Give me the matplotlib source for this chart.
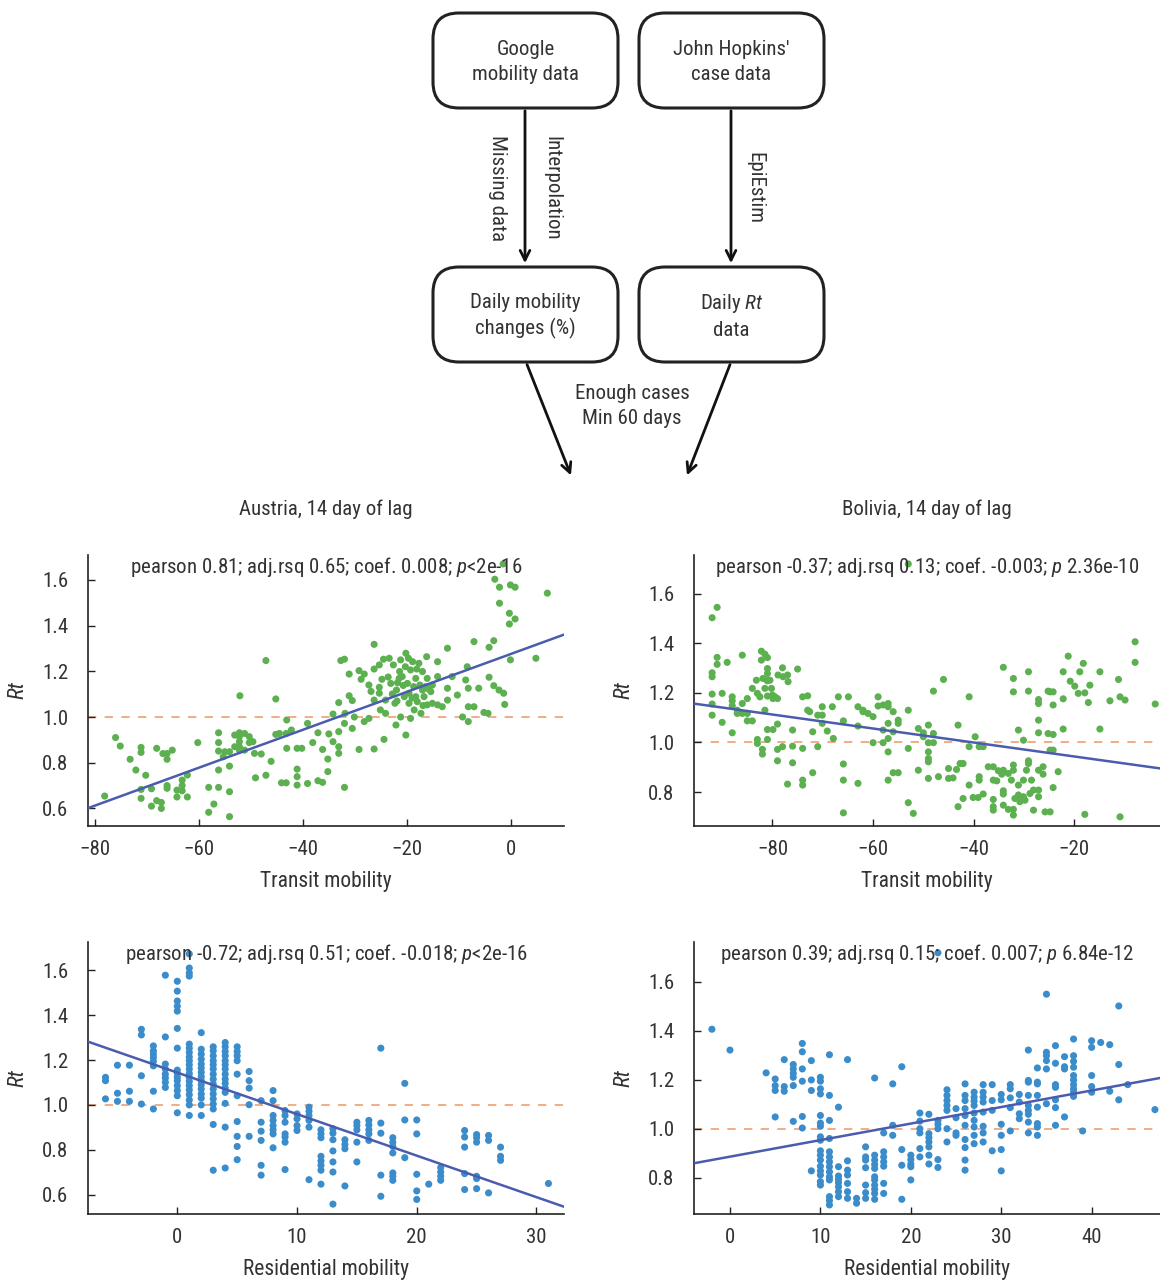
import matplotlib
matplotlib.use('Agg')
import matplotlib.pyplot as plt
from matplotlib import font_manager
from matplotlib.patches import FancyBboxPatch

# pick a narrow sans if there is one
names = {f.name for f in font_manager.fontManager.ttflist}
font = 'DejaVu Sans'
for cand in ['Liberation Sans Narrow', 'Roboto Condensed', 'Roboto', 'Liberation Sans']:
    if cand in names:
        font = cand
        break
plt.rcParams['font.family'] = [font, 'DejaVu Sans']
plt.rcParams['mathtext.fontset'] = 'custom'
plt.rcParams['mathtext.it'] = font + ':italic'
plt.rcParams['mathtext.rm'] = font

# ---- data ----
# Austria, transit mobility vs Rt
at_x = [-78.1, -76.0, -75.1, -73.2, -72.1, -71.1, -71.1, -71.1, -71.1, -70.2, -69.1, -69.1, -68.1, -68.1,
        -67.2, -67.2, -66.9, -66.1, -66.1, -66.1, -66.1, -65.1, -64.2, -64.2, -63.2, -63.2, -63.2, -62.2,
        -62.2, -60.2, -58.1, -58.1, -57.1, -56.2, -56.2, -56.2, -56.2, -56.2, -55.3, -54.1, -54.1, -54.1,
        -55.0, -54.1, -53.1, -53.1, -52.2, -52.2, -52.2, -52.2, -52.2, -52.1, -51.2, -51.2, -50.3, -50.3,
        -49.6, -49.3,
        -49.1, -47.1, -47.1, -48.0, -46.1, -45.2, -45.2, -44.5, -44.1, -43.2, -43.2, -43.1, -43.1, -42.2,
        -41.1, -41.1, -41.1, -41.1, -40.2, -39.1, -39.1, -38.1, -37.1, -37.1, -36.2, -36.2, -35.0, -35.2,
        -35.2, -34.2, -34.2, -33.1, -33.1, -33.1, -33.1, -32.7, -32.0, -32.0, -32.0, -31.9, -31.1, -31.1,
        -30.5, -30.5, -30.1, -29.2, -29.2, -28.2, -28.2, -27.3, -27.3, -26.3, -26.3, -26.3, -26.3, -25.3,
        -25.3, -25.3, -25.1, -24.5, -24.4, -24.1, -24.1, -23.4, -23.1, -22.6, -22.3, -22.1, -22.0, -21.8,
        -21.5, -21.4, -21.2, -21.2, -20.9, -20.5, -20.3, -20.2, -20.2, -19.9, -19.7, -19.6, -19.6, -19.3,
        -19.3, -18.9, -18.7, -18.6, -18.3, -18.3, -18.0, -17.7, -17.5, -17.3, -17.0, -17.0, -16.7, -16.4,
        -16.2, -16.1, -16.1, -15.4, -15.1, -15.1, -14.1, -14.1, -14.1, -13.2, -12.2, -12.2, -12.2, -11.3,
        -10.3, -9.3, -8.7, -8.4, -8.2, -8.2, -8.2, -7.1, -7.1, -6.2, -5.2, -4.4, -4.2, -4.2, -3.3, -3.3,
        -3.1, -2.3, -2.2, -2.2, -1.4, -1.2, -0.3, -0.3, -0.1, -0.1, 0.8, 0.8, 4.8, 7.0, -1.5,
        -23.6, -22.8, -21.9, -20.7, -19.0, -18.1, -16.9, -15.8, -24.8, -26.9, -28.8]
at_y = [0.654, 0.91, 0.873, 0.815, 0.768, 0.867, 0.845, 0.683, 0.644, 0.745, 0.686, 0.61, 0.863, 0.634,
        0.626, 0.6, 0.84, 0.84, 0.815, 0.70, 0.688, 0.855, 0.68, 0.65, 0.724, 0.70, 0.677, 0.746,
        0.65, 0.888, 0.692, 0.583, 0.619, 0.931, 0.888, 0.851, 0.768, 0.692, 0.826, 0.564, 0.785, 0.673,
        0.848, 0.848, 0.921, 0.87, 0.931, 0.914, 0.892, 0.87, 0.855, 1.093, 0.928, 0.855, 0.914, 0.888,
        0.892, 0.841,
        0.734, 1.247, 0.745, 0.838, 0.806, 1.079, 0.924, 0.928, 0.712, 0.712, 0.928, 0.987, 0.863, 0.943,
        0.863, 0.772, 0.739, 0.702, 0.863, 0.709, 0.972, 0.888, 0.931, 0.721, 0.714, 0.858, 0.926, 0.816,
        0.761, 1.013, 0.892, 1.063, 0.936, 0.870, 0.841, 1.247, 1.253, 0.692, 0.972, 1.016, 1.093, 1.188,
        1.072, 0.950, 1.0, 1.203, 0.858, 1.188, 0.980, 0.994, 1.14, 1.318, 1.21, 0.86, 1.074, 1.228,
        1.13, 1.104, 1.031, 1.253, 0.902, 1.074, 1.016, 1.257, 1.147, 1.228, 1.06, 0.965, 1.118, 1.15,
        1.169, 1.199, 1.25, 1.0, 1.177, 1.089, 1.22, 0.921, 1.279, 1.147, 1.257, 1.104, 1.06, 1.206,
        0.994, 1.242, 1.133, 1.031, 1.169, 1.089, 1.067, 1.235, 1.14, 1.016, 1.199, 1.118, 1.089, 1.133,
        1.264, 1.169, 1.053, 1.111, 1.06, 1.14, 1.242, 1.177, 1.053, 1.045, 1.301, 1.126, 1.074, 1.177,
        1.096, 1.0, 1.162, 1.22, 0.98, 1.126, 1.045, 1.33, 1.045, 1.126, 1.02, 1.016, 1.305, 1.174, 1.334, 1.137,
        1.603, 1.118, 1.568, 1.498, 1.104, 1.055, 1.454, 1.407, 1.578, 1.25, 1.568, 1.429, 1.257, 1.542, 1.67,
        1.175, 1.101, 1.07, 1.138, 1.083, 1.21, 1.05, 1.122, 1.165, 1.112, 1.165]

# Bolivia, transit mobility vs Rt
bt_x = [-92.0, -91.0, -91.0, -91.0, -92.0, -92.0, -92.0, -92.0, -92.0, -90.0, -90.0, -89.0, -88.0, -88.0,
        -88.0, -88.0, -87.0, -87.0, -86.0, -86.0, -86.0, -85.0, -85.0, -85.0, -84.0, -84.0, -83.2, -83.0,
        -82.5, -82.2, -82.2, -81.9, -81.5, -81.5, -81.5, -81.0, -81.0, -81.0, -81.0, -81.0, -80.5, -80.2,
        -80.0, -79.9, -79.5, -79.0, -79.0, -78.9, -79.9, -81.0, -81.0, -83.0, -83.0, -82.0, -82.0, -81.0,
        -78.0, -77.9, -77.0, -76.9, -79.0, -79.0, -78.0, -77.0, -76.0, -76.0, -76.0, -75.0, -74.0, -74.0,
        -74.0, -74.0, -73.0, -73.0, -72.6, -72.0, -72.0, -71.0, -71.0, -70.1, -70.1, -70.1, -69.1, -68.1,
        -67.9, -66.9, -65.9, -65.9, -65.9, -65.9, -64.9, -63.0, -63.0, -63.0, -62.0, -62.0, -61.0, -60.0,
        -60.0, -59.0, -59.0, -58.0, -58.0, -58.0, -57.0, -57.0, -57.0, -57.0, -57.0, -57.0, -56.0, -56.0,
        -56.0, -55.0, -55.0, -55.0, -53.0, -53.0, -53.0, -52.0, -51.0, -51.0, -50.0, -50.0, -49.0, -49.0,
        -49.0, -49.0, -49.0, -49.0, -48.0, -48.0, -48.0, -47.0, -46.0, -45.0, -45.0, -44.1, -43.4, -43.1,
        -43.1, -42.7, -42.1, -42.1, -40.9, -40.9, -40.9, -40.1, -39.7, -39.1, -38.9, -38.9, -38.9, -38.1,
        -38.1, -37.1, -36.1, -36.1, -36.1, -36.1, -36.1, -35.4, -35.1, -34.4, -34.1, -34.1, -34.1, -34.1,
        -34.1, -33.1, -33.1, -32.5, -32.1, -32.1, -32.1, -32.1, -32.1, -32.1, -31.8, -31.1, -31.1, -31.1,
        -31.1, -30.8, -30.1, -30.1, -30.1, -29.8, -29.5, -29.1, -29.1, -29.1, -29.1, -28.8, -28.5, -28.1,
        -28.1, -27.1, -27.1, -27.1, -27.1, -27.1, -27.1, -27.1, -26.2, -26.2, -25.8, -25.2, -25.2, -24.8,
        -24.8, -24.8, -24.2, -24.2, -24.2, -24.2, -24.2, -23.2, -22.2, -22.2, -22.2, -21.2, -20.8, -19.9,
        -19.2, -18.9, -18.2, -17.9, -17.9, -17.2, -16.9, -14.9, -14.9, -12.9, -11.2, -10.9, -10.9, -9.9,
        -7.9, -7.9, -3.9, -53.0]
bt_y = [1.503, 1.545, 1.343, 1.315, 1.281, 1.265, 1.195, 1.155, 1.11, 1.198, 1.081, 1.323, 1.184, 1.168,
        1.148, 1.039, 1.117, 1.13, 1.157, 1.352, 1.117, 1.117, 1.177, 1.087, 1.218, 1.087, 1.251, 1.198,
        1.184, 1.368, 1.332, 1.258, 1.356, 1.218, 1.13, 1.342, 1.298, 1.278, 1.249, 1.187, 1.251, 1.218,
        1.191, 1.177, 1.184, 1.177, 1.074, 1.272, 1.052, 1.052, 1.012, 1.012, 0.996, 0.972, 0.953, 1.249,
        1.301, 1.265, 1.272, 1.245, 0.972, 0.926, 0.983, 0.832, 1.05, 0.985, 0.918, 1.296, 1.184, 0.976,
        0.848, 0.828, 1.188, 1.13, 1.124, 0.878, 1.043, 0.983, 1.11, 1.144, 1.11, 1.077, 1.046, 1.144,
        1.016, 1.184, 1.087, 0.913, 0.848, 0.716, 1.184, 1.144, 1.066, 0.835, 1.13, 1.124, 1.117, 1.104,
        0.999, 1.184, 1.147, 1.151, 0.999, 1.05, 1.157, 1.144, 1.077, 1.016, 0.962, 0.848, 1.124, 1.043,
        0.878, 1.09, 1.077, 0.878, 1.13, 0.976, 0.757, 0.714, 1.056, 0.888, 1.039, 1.023, 1.07, 0.999,
        0.962, 0.935, 0.922, 0.855, 1.207, 1.036, 0.999, 0.862, 1.254, 0.895, 0.855, 0.857, 0.891, 1.07,
        0.741, 0.915, 0.915, 0.774, 1.184, 0.983, 0.828, 0.778, 1.023, 0.778, 0.983, 0.862, 0.848, 0.983,
        0.792, 0.902, 0.902, 0.848, 0.77, 0.741, 0.727, 0.845, 0.886, 0.872, 1.303, 0.888, 0.805, 0.792,
        0.747, 0.875, 0.73, 0.848, 1.258, 1.204, 0.909, 0.888, 0.73, 0.707, 0.774, 1.05, 0.828, 0.788,
        0.778, 0.761, 1.009, 0.848, 0.781, 0.767, 0.888, 1.285, 1.207, 0.926, 0.915, 0.794, 0.848, 0.808,
        0.727, 1.173, 1.157, 1.09, 1.039, 0.888, 0.808, 0.781, 0.902, 0.872, 0.72, 1.207, 1.036, 1.204,
        0.969, 0.72, 1.204, 1.151, 1.032, 0.969, 0.818, 0.882, 1.285, 1.176, 1.054, 1.348, 1.247, 1.227,
        1.198, 1.285, 1.319, 1.2, 0.71, 1.161, 1.231, 1.285, 1.054, 1.168, 1.254, 0.7, 1.184, 1.171,
        1.406, 1.323, 1.155, 1.72]

# Austria, residential mobility vs Rt (grouped by whole-number mobility)
ar_cols = {
    -6: [1.123, 1.108, 1.027],
    -5: [1.177, 1.052, 1.016],
    -4: [1.177, 1.061, 1.016],
    -3: [1.337, 1.312, 1.13, 1.004],
    -2: [1.263, 1.241, 1.226, 1.211, 1.194, 1.174, 1.061, 0.982],
    -1: [1.578, 1.303, 1.182, 1.16, 1.137, 1.12, 1.101, 1.078],
    0: [1.551, 1.507, 1.463, 1.44, 1.418, 1.341, 1.253, 1.155, 1.14, 1.123, 1.108, 1.086, 1.064, 1.041, 0.965],
    1: [1.673, 1.61, 1.588, 1.574, 1.271, 1.253, 1.234, 1.214, 1.197, 1.179, 1.16, 1.14, 1.123, 1.105,
        1.086, 1.067, 1.046, 1.022, 1.0, 0.953],
    2: [1.322, 1.248, 1.226, 1.204, 1.182, 1.164, 1.145, 1.126, 1.108, 1.09, 1.071, 1.049, 1.03, 1.0, 0.953],
    3: [1.259, 1.241, 1.219, 1.197, 1.179, 1.16, 1.137, 1.115, 1.093, 1.071, 1.049, 1.027, 1.004, 0.982,
        0.913, 0.709],
    4: [1.278, 1.259, 1.238, 1.219, 1.197, 1.179, 1.16, 1.137, 1.115, 1.096, 1.075, 1.056, 1.007, 0.901, 0.719],
    5: [1.259, 1.238, 1.219, 1.197, 1.137, 1.041, 0.926, 0.86, 0.815, 0.756],
    6: [1.149, 1.108, 1.075, 1.001, 0.86],
    7: [1.019, 0.923, 0.883, 0.842, 0.731, 0.687],
    8: [1.064, 1.019, 0.953, 0.931, 0.908, 0.889, 0.871, 0.809],
    9: [0.975, 0.953, 0.923, 0.871, 0.857, 0.834, 0.712],
    10: [0.96, 0.938, 0.908, 0.886],
    11: [0.99, 0.972, 0.953, 0.931, 0.901, 0.667],
    12: [0.889, 0.871, 0.854, 0.771, 0.75, 0.731, 0.709, 0.647],
    13: [0.894, 0.874, 0.845, 0.795, 0.746, 0.701, 0.558],
    14: [0.845, 0.824, 0.805, 0.639],
    15: [0.923, 0.908, 0.889, 0.834, 0.746],
    16: [0.931, 0.911, 0.889, 0.871, 0.842],
    17: [1.253, 0.919, 0.874, 0.687, 0.593],
    18: [0.854, 0.834, 0.815, 0.786, 0.697, 0.682, 0.664],
    19: [1.096, 0.933, 0.765],
    20: [0.933, 0.871, 0.691, 0.617, 0.579],
    21: [0.647],
    22: [0.721, 0.701, 0.682, 0.664],
    24: [0.886, 0.857, 0.812, 0.694, 0.623],
    25: [0.868, 0.854, 0.834, 0.682, 0.672, 0.627],
    26: [0.864, 0.842, 0.608],
    27: [0.812, 0.771, 0.753],
    31: [0.65],
}

# Bolivia, residential mobility vs Rt
br_cols = {
    -2: [1.407],
    0: [1.322],
    4: [1.229],
    5: [1.204, 1.177, 1.157, 1.049],
    6: [1.283, 1.173, 1.154],
    7: [1.263, 1.245, 1.227, 1.211, 1.177, 1.031],
    8: [1.349, 1.315, 1.245, 1.195, 1.051, 1.004],
    9: [1.279, 1.2, 1.157, 0.829],
    10: [1.211, 1.195, 1.164, 1.143, 1.055, 1.024, 1.011, 0.968, 0.954, 0.911, 0.893, 0.873, 0.848, 0.829,
         0.812, 0.785, 0.771],
    11: [1.303, 1.137, 1.035, 0.961, 0.907, 0.886, 0.866, 0.846, 0.825, 0.805, 0.792, 0.724, 0.708, 0.69],
    12: [1.089, 0.846, 0.808, 0.794, 0.781, 0.764, 0.744, 0.724],
    13: [1.283, 0.87, 0.832, 0.812, 0.778, 0.744, 0.717],
    14: [0.717, 0.697],
    15: [0.927, 0.886, 0.873, 0.842, 0.771, 0.74, 0.717],
    16: [1.208, 0.893, 0.873, 0.855, 0.839, 0.805, 0.792, 0.771, 0.754, 0.737, 0.713],
    17: [0.984, 0.907, 0.886, 0.866, 0.848, 0.778, 0.737],
    18: [1.184, 1.015, 0.974],
    19: [1.254, 0.916, 0.852, 0.713],
    20: [0.893, 0.875, 0.857, 0.846, 0.792],
    21: [1.065, 1.032, 1.001, 0.984, 0.92, 0.886],
    22: [1.06, 0.981, 0.965, 0.947, 0.927, 0.893, 0.857],
    23: [1.719, 1.035, 1.019, 1.001, 0.875, 0.843],
    24: [1.16, 1.137, 1.116, 1.096, 1.076, 1.001, 0.947],
    25: [1.083, 1.046, 0.984, 0.974],
    26: [1.184, 1.137, 1.116, 1.083, 1.055, 1.015, 0.957, 0.924, 0.873, 0.832],
    27: [1.15, 1.13, 1.114, 1.096, 1.065, 1.035, 1.008, 0.974, 0.94],
    28: [1.181, 1.15, 1.13, 1.11, 1.069, 1.011, 0.984, 0.947],
    29: [1.181, 1.116, 1.076, 0.911],
    30: [1.141, 1.119, 1.019, 0.974, 0.916, 0.829],
    31: [1.181, 1.164, 1.127, 1.087, 0.992],
    32: [1.141, 1.11, 1.062, 1.042],
    33: [1.322, 1.198, 1.191, 1.137, 1.096, 1.076, 1.06, 1.028, 0.984],
    34: [1.249, 1.191, 1.184, 1.137, 1.089, 1.022, 1.008, 0.974],
    35: [1.55, 1.313, 1.299, 1.279, 1.245, 1.103],
    36: [1.34, 1.268, 1.181, 1.17, 1.119, 1.087, 1.015],
    37: [1.295, 1.254, 1.245, 1.049],
    38: [1.367, 1.299, 1.276, 1.252, 1.218, 1.2, 1.181, 1.164, 1.15, 1.133],
    39: [0.992],
    40: [1.36, 1.333, 1.218, 1.173, 1.15],
    41: [1.353],
    42: [1.344, 1.154],
    43: [1.502, 1.263, 1.119],
    44: [1.181],
    47: [1.079],
}

ar_x = [k for k, v in ar_cols.items() for _ in v]
ar_y = [y for v in ar_cols.values() for y in v]
br_x = [k for k, v in br_cols.items() for _ in v]
br_y = [y for v in br_cols.values() for y in v]

# fitted lines (intercept, slope) and the stats text
fits = [(1.276, 0.0083), (0.887, -0.00282), (1.144, -0.0185), (0.887, 0.00675)]
stats = ['pearson 0.81; adj.rsq 0.65; coef. 0.008; $p$<2e-16',
         'pearson -0.37; adj.rsq 0.13; coef. -0.003; $p$ 2.36e-10',
         'pearson -0.72; adj.rsq 0.51; coef. -0.018; $p$<2e-16',
         'pearson 0.39; adj.rsq 0.15; coef. 0.007; $p$ 6.84e-12']

green = '#5cb050'
blue = '#3a8cca'
line_col = '#4a5cae'
ref_col = '#f0a070'

W, H = 1160, 1284
fig = plt.figure(figsize=(W / 100, H / 100), dpi=100)

# ---- flowchart (drawn in pixel units on a full-figure axes) ----
fc = fig.add_axes([0, 0, 1, 1])
fc.set_xlim(0, W)
fc.set_ylim(H, 0)
fc.axis('off')

boxes = [(433, 13, 'Google\nmobility data'),
         (639, 13, "John Hopkins'\ncase data"),
         (433, 267, 'Daily mobility\nchanges (%)'),
         (639, 267, 'Daily $Rt$\ndata')]
for bx, by, txt in boxes:
    fc.add_patch(FancyBboxPatch((bx, by), 185, 95, boxstyle='round,pad=0,rounding_size=26',
                                fc='white', ec='#222222', lw=2.2))
    fc.text(bx + 92.5, by + 49, txt, ha='center', va='center', fontsize=15, linespacing=1.4,
            color='#333333')

arrow = dict(arrowstyle='->,head_length=0.7,head_width=0.35', color='#111111', lw=2)
fc.annotate('', xy=(525, 266), xytext=(525, 108), arrowprops=arrow)
fc.annotate('', xy=(731, 266), xytext=(731, 108), arrowprops=arrow)
fc.annotate('', xy=(572, 478), xytext=(526, 362), arrowprops=arrow)
fc.annotate('', xy=(686, 478), xytext=(731, 362), arrowprops=arrow)
fc.text(497, 188, 'Missing data', rotation=270, ha='center', va='center', fontsize=15, color='#333333')
fc.text(552, 188, 'Interpolation', rotation=270, ha='center', va='center', fontsize=15, color='#333333')
fc.text(755, 188, 'EpiEstim', rotation=270, ha='center', va='center', fontsize=15, color='#333333')
fc.text(632, 406, 'Enough cases\nMin 60 days', ha='center', va='center', fontsize=15,
        linespacing=1.4, color='#333333')

# ---- scatter panels ----
def px_axes(left, top, right, bottom):
    return fig.add_axes([left / W, 1 - bottom / H, (right - left) / W, (bottom - top) / H])

panels = [
    (px_axes(88, 555, 564, 826), at_x, at_y, green, (-81.3, 10.2), (0.523, 1.709),
     [-80, -60, -40, -20, 0], [0.6, 0.8, 1.0, 1.2, 1.4, 1.6], 'Transit mobility'),
    (px_axes(694, 555, 1160, 826), bt_x, bt_y, green, (-95.6, -2.95), (0.663, 1.756),
     [-80, -60, -40, -20], [0.8, 1.0, 1.2, 1.4, 1.6], 'Transit mobility'),
    (px_axes(88, 942, 564, 1214), ar_x, ar_y, blue, (-7.46, 32.3), (0.514, 1.726),
     [0, 10, 20, 30], [0.6, 0.8, 1.0, 1.2, 1.4, 1.6], 'Residential mobility'),
    (px_axes(694, 942, 1160, 1214), br_x, br_y, blue, (-3.98, 47.56), (0.653, 1.763),
     [0, 10, 20, 30, 40], [0.8, 1.0, 1.2, 1.4, 1.6], 'Residential mobility'),
]

titles = ['Austria, 14 day of lag', 'Bolivia, 14 day of lag']

for i, (ax, xs, ys, col, xl, yl, xt, yt, xlab) in enumerate(panels):
    ax.scatter(xs, ys, s=26, color=col, edgecolors='none', zorder=2)
    ax.axhline(1.0, color=ref_col, lw=1.2, ls=(0, (5, 5)), zorder=1)
    b0, b1 = fits[i]
    ax.axline((0, b0), slope=b1, color=line_col, lw=1.8, zorder=3)
    ax.set_xlim(*xl)
    ax.set_ylim(*yl)
    ax.set_xticks(xt)
    ax.set_yticks(yt)
    ax.set_yticklabels([f'{v:.1f}' for v in yt])
    ax.tick_params(direction='in', length=5, width=1, labelsize=15, colors='#222222',
                   labelcolor='#333333')
    ax.tick_params(axis='x', pad=10)
    ax.tick_params(axis='y', pad=14)
    for s in ['top', 'right']:
        ax.spines[s].set_visible(False)
    for s in ['left', 'bottom']:
        ax.spines[s].set_linewidth(1.2)
        ax.spines[s].set_color('#222222')
    ax.set_facecolor('none')
    ax.set_xlabel(xlab, fontsize=15.5, labelpad=9, color='#333333')
    ax.set_ylabel('Rt', fontsize=16, fontstyle='italic', labelpad=10, color='#333333')
    ax.text(0.5, 0.955, stats[i], transform=ax.transAxes, ha='center', va='center', fontsize=15,
            color='#333333', zorder=4)
    if i < 2:
        ax.set_title(titles[i], fontsize=15, pad=29, color='#333333')

fig.savefig('out.png', dpi=100)
